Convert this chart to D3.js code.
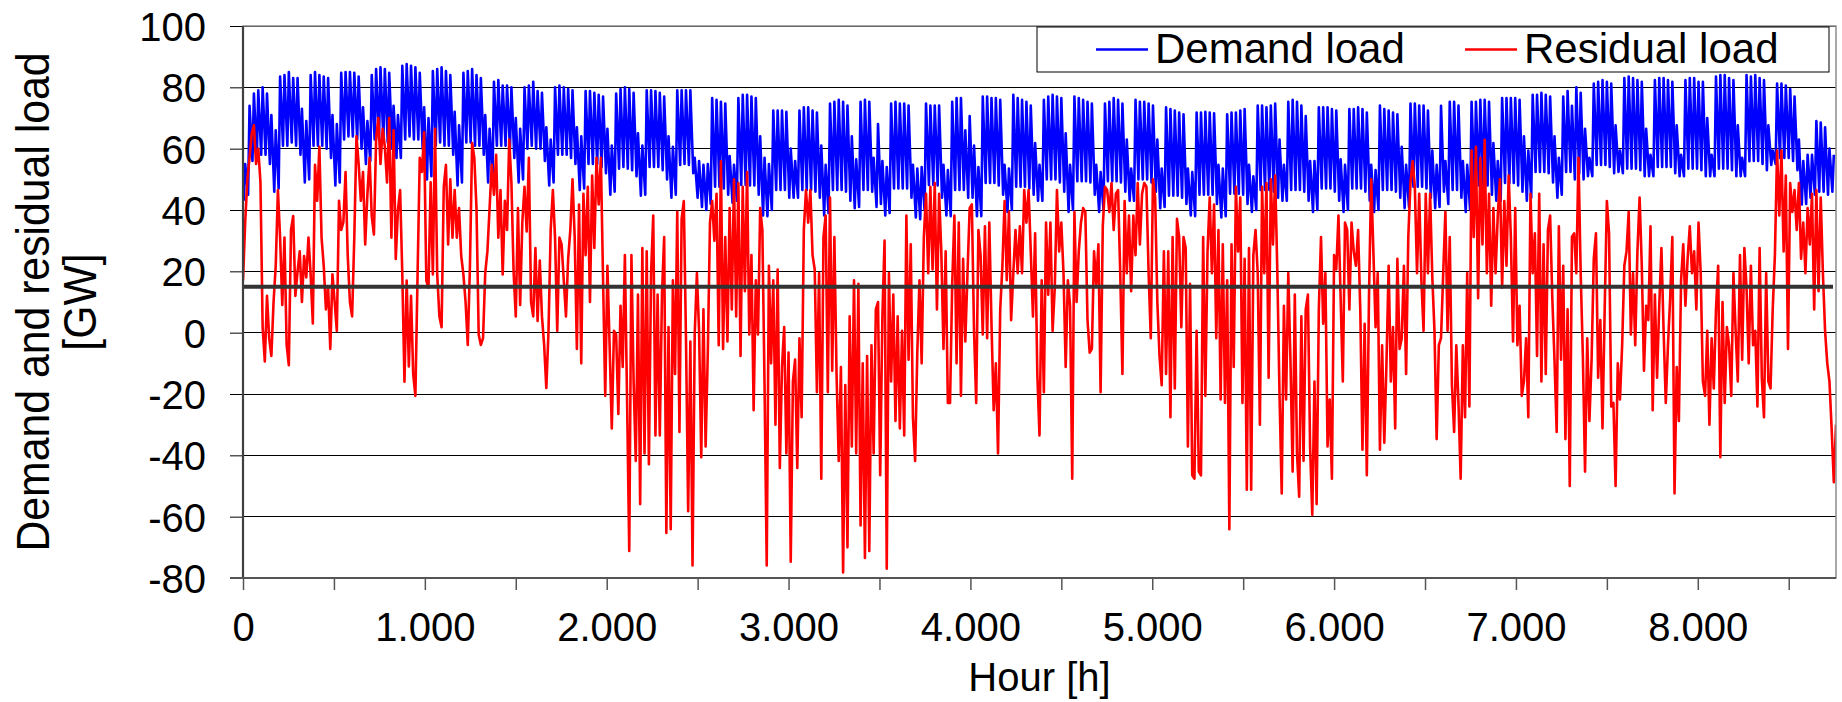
<!DOCTYPE html>
<html>
<head>
<meta charset="utf-8">
<script src="https://cdn.jsdelivr.net/npm/d3@7"></script>
<style>
  body { margin: 0; background: #fff; }
  svg text { font-family: "Liberation Sans", Arial, sans-serif; fill: #000; }
</style>
</head>
<body>
<script>
// ! Data
// demand load: one [night low, day peak] pair per day, one row per week (Sun..Sat)
const demandLoad = [
  43,55, 45,74, 56,78, 57,79, 58,80, 58,78, 55,71,
  46,66, 47,83.5, 61,84, 61,85, 62,83, 61,83, 58,73,
  49,69, 50,84, 61,85, 61,84, 61,83.5, 60,83, 57,71,
  48,68, 49,84.7, 63,85, 64,85, 64,84.7, 63,83.5, 60,73.5,
  55,69, 56,84, 63,86, 63,86.5, 63,86, 62,84.7, 60,74,
  57,71, 57,87, 63,87.6, 64,87, 63,86.5, 63,84.7, 60,73.5,
  50,70, 51,85.3, 61,86, 62,86.5, 61,85.3, 61,84, 58,72,
  48,67.6, 49,84.7, 62,85.3, 62,86, 61,84, 61,83, 58,71,
  49,66.5, 50,81.8, 61,82.4, 61,80.6, 61,80.6, 60,80, 57,70,
  49,66.5, 50,80, 60,80.6, 61,81.8, 60,78.8, 60,78.2, 56,67,
  48,63, 49,80, 58,80.6, 58,80, 58,79.5, 57,79, 55,67,
  46.5,64, 47,78.8, 55,78.8, 55,78.2, 55,77.6, 54,77, 52,66.5,
  45,61, 46,78, 53.5,79.4, 54,80, 53.5,79.4, 53,78.2, 51,65,
  44.7,61, 45,79, 54,79, 54,78.8, 54,78.2, 53,77, 50,64,
  44,60.6, 45,79, 54.7,79, 55,79, 54.7,79, 52,57, 44,56,
  41,54.7, 40,55, 42,76.5, 47.6,75.9, 47.6,75.3, 47,74.7, 45,57.6,
  42.4,54.7, 43,76.5, 48.2,77.6, 48.2,77.6, 48,77, 48,76.5, 45,64,
  38.2,57, 38,55, 40,72.4, 46.5,72.4, 46.5,72.4, 46.5,72, 44,60,
  44,56, 44,72.4, 46.5,73.5, 46.5,73.5, 46.5,72.4, 46,71.8, 44,61,
  38.2,54.7, 39,74.7, 46.5,75.3, 46.5,75.9, 46.5,75.3, 46,74.1, 43,64,
  40.6,56.5, 41,75.3, 46.5,75.9, 46.5,75.3, 46,57, 41,68, 42,56,
  38.2,54, 39,74.7, 47,75.3, 47,74.7, 47,74.7, 47,74.1, 44,54.7,
  37.6,53.5, 37,54, 40,74.7, 48.2,74.1, 48.2,74.1, 48,74.1, 44,54.7,
  38.2,53, 38,75.3, 46.5,76.5, 46.5,76.5, 46.5,66, 44,70.6, 44,61,
  38,54, 38,77, 48.8,77, 48.8,76.5, 48.8,76.5, 48,75.9, 45,54.7,
  39.4,53.5, 40,77.6, 47.6,76.5, 47.6,75.9, 47.6,75.3, 47,74.1, 45,61.8,
  43,54.7, 43,75.9, 50,77, 50,77.6, 50,77, 49,76.5, 46,65,
  39.4,54.7, 40,77, 49.4,76.5, 49.4,75.9, 49.4,75.3, 49,74.7, 45,54.7,
  39.4,52.4, 40,74.7, 49.4,75.3, 49.4,76.5, 49.4,75.9, 49,74.7, 46,63,
  43,53.5, 43,75.9, 50,75.3, 50,75.3, 50,74.7, 49,74.1, 46,63,
  40.6,53.5, 41,73.5, 44.7,72.9, 44.7,72.4, 44.7,71.8, 44,71.2, 42,53.5,
  38.2,52.4, 38,71.8, 45,71.8, 45,72, 45,71.8, 45,71.5, 42,54.7,
  37.6,53.5, 38,71.2, 45.3,71.8, 45.3,71.8, 45.3,72.4, 45,72.9, 42,54.7,
  39.4,51, 40,74.1, 46.5,74.1, 46.5,73.5, 46.5,74.1, 46,74.7, 44,63,
  43,54.7, 43,75.3, 46.5,75.9, 46.5,75.3, 46.5,74.1, 46,70.6, 43,56,
  39.4,56, 40,73.5, 47,73.5, 47,73.5, 47,72.9, 46,72.4, 43,56.5,
  39.4,54.7, 40,72.9, 47,72.9, 47,73.5, 47,72.9, 46,71.8, 43,54.7,
  39.4,53, 40,74.1, 46.5,72.9, 46.5,72.4, 46.5,71.8, 46,71.2, 44,60.6,
  40.6,54.7, 41,74.7, 47.6,74.7, 47.6,74.1, 47.6,74.1, 47,72.4, 44,59.4,
  40.6,54.7, 41,74, 46,56, 42,75.3, 46.5,75.3, 46.5,74.1, 44,56,
  39.4,54.7, 40,75.3, 48,75.3, 48,75.9, 48,75.9, 48,75.3, 45,61.8,
  43,56, 43,76.5, 48.8,76.5, 48.8,76.5, 48.8,76.5, 48,75.9, 46,64,
  43,59.4, 44,77.6, 52.4,77.6, 52.4,78.2, 52.4,77.6, 52,77, 49,64,
  44,57, 45,77, 52.4,78.8, 52.4,74, 50,80, 52,78.2, 50,66.5,
  51,57, 51,81.2, 54.7,81.8, 54.7,82.4, 54.7,81.8, 54,81.2, 52,67.6,
  52.4,59.4, 52,83, 53.5,83.5, 53.5,83, 53.5,82.4, 53,81.8, 51,66.5,
  51,58, 51,82.4, 54,83, 54,83, 54,82.4, 54,81.8, 52,67.6,
  51,58, 51,82.4, 53.5,83, 53.5,83, 53.5,81.8, 53,81.8, 51,70,
  51,58, 51,83.5, 53.5,84, 53.5,84, 53.5,83, 53,82.4, 51,67.6,
  51,57, 51,84, 55.9,83.5, 56,84, 56,83, 55,82.4, 53,67.6,
  54.7,59.4, 55,81.2, 57,81.2, 57,80.6, 57,79.4, 56,77, 53,63,
  41.8,56, 42,58, 44,58, 45,69, 46,68.5, 46,67, 45,60,
  46,58
];

// residual load: one value every 12 hours
const residualLoad = [
  17, 36, 50, 57, 65, 67.6, 55, 60, 49, 1.8, -9.4, 12, -1.8, -7.6, 10, 21.8, 46.5, 31, 9, 31,
  -4, -10.6, 33.5, 38, 12, 20, 26.5, 10, 25, 18, 31, 19, 3, 54.7, 43, 60.6, 31, 21.8, 7.6, 15,
  -5.3, 19, 10, 0.6, 43, 33.5, 36, 52.4, 25, 10, 5.3, 31, 64, 55, 43, 52.4, 28.8, 45, 57, 38,
  32, 63, 70, 55, 66.5, 60.6, 49, 70, 31, 66, 24, 40, 46.5, 19, -16, 17, -11, 12, -13.5, -20.6,
  19, 57, 52.4, 65.3, 17, 14.7, 49, 19, 66.5, 19, 5.3, 1.8, 47.6, 54.7, 28.8, 50, 31, 46.5, 31, 40.6,
  25, 19, 10, -4, 21.8, 61.8, 57, 40.6, -0.6, -4, -1.8, 19.4, 26.5, 40.6, 54.7, 45, 58, 31, 46.5, 19,
  43, 33.5, 63, 49, 20, 5.3, 40.6, 9, 36, 47.6, 33, 57, 10, 5.3, 27.6, 3.8, 23.5, 5.3, -4, -18,
  0.6, 33.5, 46.5, 31, 0.6, 31, 28.8,
  17.1, 5.3, 24.1, 33.5, 50, 31.2, -5.3, 41.8, -10, 45.3, 25.3, 47.6, 10, 51.2, 27.6, 57,
  41.8, 57, 17.1, -20.6, 21.8, -4.1, -31.2, 0.6, -0.6, -26.5, 8.8, -11.2,
  25.3, -21.8, -71.2, 25.3, -15.9, -41.8, 12.4, -55.9, 27.6, -39.4, 26.5, -42.9,
  19.4, 38.2, -33.5, 12.4, -33.5, 12.4, 31.2, -65.3, 1.8, -64.1, 17.1, -13.5,
  39.4, -32.4, 37.1, 42.9, -1.8, -58.2, -2.9, -75.9, -0.6, 19.4, 0.6, -40.6,
  7.6, -37.1, -6.5, 35.9, 42.9, 30, 45.3, -4.1, 55.9, -5.3, 31.2, -2.9,
  40.6, 7.6, 50, 5.3, 48.8, -7.6, 47.6, 13.5, 52.4, -0.6, 25.3, -25.3,
  17.1, -0.6, 40.6, 33.5, -17.1, -75.9, 21.8, -10, 17.1, -30, 20.6, -44.1,
  -11.2, 1.8, -39.4, -6.5, -74.7, -15.9, -8.8, -44.1, -1.8, -27.6, 33.5, 46.5,
  35.9, 46.5, 25.3, 20.6, -19.4, 19.4, -47.6, 31.2, 38.2, -19.4, 44.1, -12.4,
  31.2, -13.5, -41.8, -11.2, -78.2, -17.1, -70, 5.3, -37.1, 17.1, -39.4, 15.9,
  -62.9, -10, -73.5, -7.6, -71.2, -4.1, -39.4, 7.6, 10, -46.5, 5.3,
  30, -77, 19.4, -15.9, 12.4, -28.8, 5.3, -31.2, 0.6, -33.5, 38.2, -8.8, 28.8, -27.6, -41.8, -6.5,
  17.1, -10, 31.2, 45.3, 19.4, 47.6, 20.6, 48.8, 7.6, 45.3, 26.5, -5.3, 26.5, -22.9, -22.9, 15.9,
  38.2, -10, 35.9, -20.6, 24.1, -2.9, 19.4, 40.6, 41.8, 0.6, -22.9, 33.5, 25.3, -0.6, 34.7, -1.8,
  35.9, 2.9, -25.3, -10, -39.4, 7.6, 21.8, 42.9, 17.1, 39.4, 4.1, 19.4, 33.5, 19.4, 34.7, 19.4,
  46.5, 35.9, 46.5, 26.5, 5.3, 32.4, -13.5, -33.5, 17.1, -19.4, 35.9, 12.4, 35.9, 0.6, 14.7, 46.5,
  26.5, 35.9, 19.4, -11.2, 17.1, 8.8, -47.6, 39.4, 10, 26.5, 35.9, 40.6, 39.4, 4.1, -6.5, -5.3,
  26.5, 15.9, 28.8, -19.4, 34.7, 47.6, 46.5, 39.4, 48.8, 33.5, 45.3, 46.5, 19.4, -13.5, 42.9, 19.4,
  38.2, 13.5, 38.2, 25.3, 48.8, 28.8, 45.3, 48.8, 47.6, 19.4, -1.8, 50, 44.1, 10, -7.6, -17.1,
  26.5, -13.5, 26.5, -27.6, 31.2, -18.2, 37.1, 31.2, 1.8, 31.2, 27.6, -37.1, 15.9, -46.5, -47.6, 0.6,
  -45.3, -46.5, 31.2, -20.6,
  26.5, 44.1, 19.4, 41.8, -1.8, 33.5, -21.8, 28.8, -22.9, 17.1, -64.1, 28.8,
  -11.2, 47.6, 26.5, 44.1, -22.9, 24.1, -51.2, 27.6, -51.2, 25.3, 33.5, 19.4,
  -30, 47.6, 19.4, 48.8, -14.7, 50, 28.8, 51.2, 19.4, -20.6, -52.4, 8.8,
  -21.8, 19.4, -8.8, -45.3, 12.4, -39.4, -53.5, 5.3, -41.8, 7.6, 12.4, -37.1,
  -59.4, -15.9, -55.9, 7.6, 31.2, 2.9, 19.4, -37.1, -21.8, -47.6, 25.3, 20.6,
  38.2, 11.2, -15.9, 35.9, 33.5, 7.6, 35.9, 26.5, 21.8, 33.5, 7.6, -38.2,
  2.9, -46.5, 12.4, 50, 26.5, 1.8, 19.4, -38.2, -4.1, -35.9, -10, 21.8,
  -15.9, 1.8, -31.2, 24.1, -5.3, -1.8, 21.8, -13.5,
  31.2, 48.8, 55.9, 47.6, 19.4, 45.3, 17.1, 0.6, 45.3, 19.4, 45.3, 18.2,
  0.6, -34.7, -4.1, -1.8, 19.4, 39.4, 0.6, 31.2, -17.1, -32.4, -4.1, -22.9,
  -47.6, -4.1, -27.6, 19.4, -24.1, 59.4, 31.2, 60.6, 11.2, 57, 28.8, 62.9,
  19.4, 45.3, 8.8, 40.6, 19.4, 38.2, 50, 14.7, 42.9, 21.8, 51.2, 31.2,
  -2.9, 40.6, -4.1, 8.8, -20.6,
  -15.9, -1.8, -27.6, 45.3, 19.4, 32.4, -7.6, 45.3, -15.9, 28.8, -13.5, 33.5,
  38.2, 11.2, -8.8, -32.4, 34.7, -8.8, 21.8, -34.7, 7.6, -50, 31.2, 32.4,
  19.4, 57, 19.4, -7.6, -45.3, -1.8, -28.8, -8.8, 24.1, 32.4, -14.7, 4.1,
  -31.2, 7.6, 42.9, 32.4, -24.1, -22.9, -50, -10, -21.8, -4.1, 21.8, 26.5,
  39.4, -0.6, 19.4, -4.1, 26.5, 44.1, 21.8, -12.4,
  8.8, 4.1, 34.7, -25.3, 12.4, -14.7, 8.8, 27.6, 0.6, -22.9, -4.1, 11.2,
  31.2, -52.4, -11.2, -28.8, 17.1, 28.8, 8.8, 24.1, 34.7, 19.4, 26.5, 7.6,
  35.9, 19.4, -15.9, -20.6, 0.6, -30,
  -1.8, -18.2, 7.6, 21.8, -40.6, 10, -22.9, 1.8,
  -4.1, -20.6, 19.4, 0.6, -15.9, 25.3, -8.8, 27.6, 14.7, -10, 21.8, -4.1,
  0.6, -24.1, 27.6, -14.7, -27.6, 19.4, -15.9, -18.2, 7.6, 25.3, 59.4, 38.2,
  59.4, 26.5, 51.2, -5.3, 48.8, 39.4, 46.5, 33.5, 48.8, 24.1, 35.9, 19.4,
  40.6, 28.8, 45.3, 7.6, 46.5, 13.5, 44.1, 19.4, 0.6, -10, -15.9, -31.2,
  -48.8, -30
];

const yTicks = [-80, -60, -40, -20, 0, 20, 40, 60, 80, 100];
const xTicks = [0, 500, 1000, 1500, 2000, 2500, 3000, 3500, 4000, 4500, 5000, 5500, 6000, 6500, 7000, 7500, 8000, 8500];
const xLabels = [0, 1000, 2000, 3000, 4000, 5000, 6000, 7000, 8000];
const referenceLevel = 15;
const seriesNames = ['Demand load', 'Residual load'];
const seriesColors = ['#0000ff', '#ff0000'];

// * Layout
const width = 1842;
const height = 702;
const plot = { left: 243, right: 1836, top: 26, bottom: 578 };

const svg = d3.select('body').append('svg')
  .attr('width', width)
  .attr('height', height);

const x = d3.scaleLinear().domain([0, 8760]).range([plot.left, plot.right]);
const y = d3.scaleLinear().domain([-80, 100]).range([plot.bottom, plot.top]);
const fmt = d3.formatLocale({ decimal: ',', thousands: '.', grouping: [3], currency: ['', ''] }).format(',');

// demand points: low at 4 h, peak at 12 h of each day
const demandPoints = demandLoad.map((v, i) => ({ h: Math.floor(i / 2) * 24 + (i % 2 ? 12 : 4), v }));
const residualPoints = residualLoad.map((v, i) => ({ h: i * 12, v }));

svg.append('defs').append('clipPath').attr('id', 'plotClip')
  .append('rect')
  .attr('x', plot.left).attr('y', plot.top)
  .attr('width', plot.right - plot.left).attr('height', plot.bottom - plot.top);

// ! Gridlines
svg.append('g')
  .selectAll('line')
  .data(yTicks)
  .join('line')
  .attr('x1', plot.left)
  .attr('x2', plot.right)
  .attr('y1', (d) => y(d))
  .attr('y2', (d) => y(d))
  .attr('stroke', '#000')
  .attr('stroke-width', 1)
  .attr('shape-rendering', 'crispEdges');

// ! Series
const line = d3.line().x((d) => x(d.h)).y((d) => y(d.v));
const lines = svg.append('g').attr('clip-path', 'url(#plotClip)');
lines.append('path')
  .datum(demandPoints)
  .attr('d', line)
  .attr('fill', 'none')
  .attr('stroke', seriesColors[0])
  .attr('stroke-width', 2.6)
  .attr('stroke-linejoin', 'round');
lines.append('path')
  .datum(residualPoints)
  .attr('d', line)
  .attr('fill', 'none')
  .attr('stroke', seriesColors[1])
  .attr('stroke-width', 2.6)
  .attr('stroke-linejoin', 'round');

// * Reference line at 15 GW
svg.append('line')
  .attr('x1', plot.left)
  .attr('x2', plot.right - 3)
  .attr('y1', y(referenceLevel))
  .attr('y2', y(referenceLevel))
  .attr('stroke', '#333')
  .attr('stroke-width', 4);

// ! Plot border
svg.append('rect')
  .attr('x', plot.left).attr('y', plot.top)
  .attr('width', plot.right - plot.left).attr('height', plot.bottom - plot.top)
  .attr('fill', 'none')
  .attr('stroke', '#8c8c8c')
  .attr('stroke-width', 1.5);

// ! Axes
const yAxis = svg.append('g')
  .attr('transform', `translate(${plot.left},0)`)
  .call(d3.axisLeft(y).tickValues(yTicks).tickSize(13).tickPadding(24).tickFormat((d) => String(d)));
yAxis.select('.domain').remove();
yAxis.selectAll('.tick line').attr('stroke', '#000');
yAxis.selectAll('.tick text').style('font-size', '40px').attr('dy', '0.36em');

const xAxis = svg.append('g')
  .attr('transform', `translate(0,${plot.bottom})`)
  .call(d3.axisBottom(x).tickValues(xTicks).tickSize(12)
    .tickFormat((d) => (xLabels.includes(d) ? fmt(d) : '')));
xAxis.select('.domain').remove();
xAxis.selectAll('.tick line').attr('stroke', '#555').attr('stroke-width', 1.5);
xAxis.selectAll('.tick text').style('font-size', '40px').attr('y', 63).attr('dy', 0);

svg.append('line')
  .attr('x1', plot.left).attr('x2', plot.left)
  .attr('y1', plot.top).attr('y2', plot.bottom)
  .attr('stroke', '#404040').attr('stroke-width', 2.2);
svg.append('line')
  .attr('x1', plot.left - 13).attr('x2', plot.right)
  .attr('y1', plot.bottom).attr('y2', plot.bottom)
  .attr('stroke', '#555').attr('stroke-width', 2);

// * Axis titles
svg.append('text')
  .attr('x', (plot.left + plot.right) / 2)
  .attr('y', 691)
  .attr('text-anchor', 'middle')
  .style('font-size', '40px')
  .text('Hour [h]');

const yTitle = svg.append('text')
  .attr('transform', `translate(49,${(plot.top + plot.bottom) / 2}) rotate(-90) scale(0.91,1)`)
  .attr('text-anchor', 'middle')
  .style('font-size', '47px');
yTitle.append('tspan').attr('x', 0).attr('y', 0).text('Demand and residual load');
yTitle.append('tspan').attr('x', 0).attr('y', 47).text('[GW]');

// ! Legend
const legend = svg.append('g').attr('class', 'legend');
legend.append('rect')
  .attr('x', 1037).attr('y', 27)
  .attr('width', 792).attr('height', 45)
  .attr('fill', '#fff')
  .attr('stroke', '#000')
  .attr('stroke-width', 1);
const legendX = [1096, 1465];
seriesNames.forEach((name, i) => {
  legend.append('line')
    .attr('x1', legendX[i]).attr('x2', legendX[i] + 52)
    .attr('y1', 49.5).attr('y2', 49.5)
    .attr('stroke', seriesColors[i])
    .attr('stroke-width', 2.5);
  legend.append('text')
    .attr('x', legendX[i] + 59)
    .attr('y', 63)
    .style('font-size', '42px')
    .text(name);
});
</script>
</body>
</html>
